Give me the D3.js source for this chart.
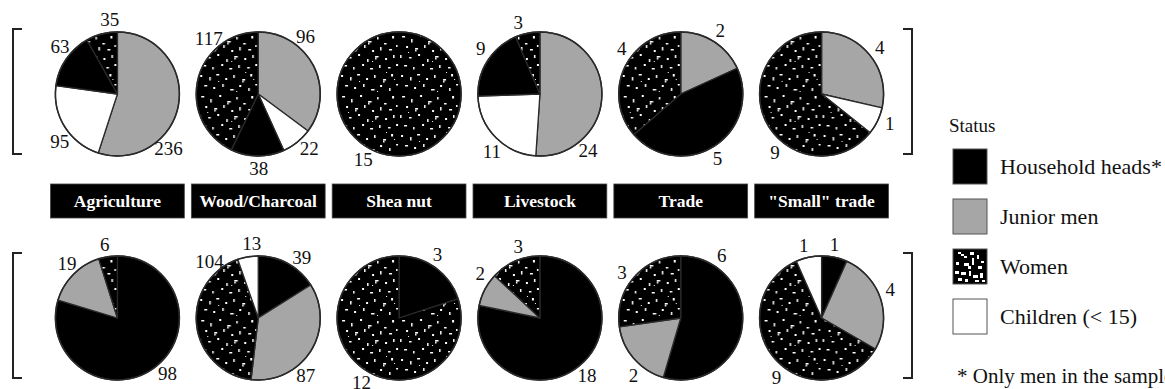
<!DOCTYPE html>
<html>
<head>
<meta charset="utf-8">
<script src="https://cdn.jsdelivr.net/npm/d3@7"></script>
<style>
  body { margin: 0; background: #fff; }
  svg { display: block; }
</style>
</head>
<body>
<svg id="chart" width="1165" height="389" font-family="'Liberation Serif', 'DejaVu Serif', 'Times New Roman', Times, serif"></svg>
<script>
// Activities (one column of pies each)
const categories = ["Agriculture", "Wood/Charcoal", "Shea nut", "Livestock", "Trade", "\"Small\" trade"];

// Legend entries
const statusKeys = ["heads", "junior", "women", "children"];
const statusLabels = ["Household heads*", "Junior men", "Women", "Children (< 15)"];

// Upper row counts, per status
const upperJunior   = [236, 96, 0, 24, 2, 4];
const upperChildren = [95, 22, 0, 11, 0, 1];
const upperHeads    = [63, 38, 0, 9, 5, 0];
const upperWomen    = [35, 117, 15, 3, 4, 9];

// Lower row counts, per status
const lowerHeads    = [98, 39, 3, 18, 6, 1];
const lowerJunior   = [19, 87, 0, 2, 2, 4];
const lowerWomen    = [6, 104, 12, 3, 3, 9];
const lowerChildren = [0, 13, 0, 0, 0, 1];

// Where each value label sits along its slice (0 = slice start, 1 = slice end)
const upperJuniorLabelAt   = [0.69, 0.31, 0.5, 0.76, 0.49, 0.5];
const upperChildrenLabelAt = [0.41, 0.35, 0.5, 0.43, 0.5, 0.42];
const upperHeadsLabelAt    = [0.60, 0.48, 0.5, 0.57, 0.52, 0.5];
const upperWomenLabelAt    = [0.80, 0.73, 0.58, 0.26, 0.60, 0.39];
const lowerHeadsLabelAt    = [0.48, 0.62, 0.43, 0.50, 0.17, 0.42];
const lowerJuniorLabelAt   = [0.55, 0.64, 0.5, 0.80, 0.35, 0.45];
const lowerWomenLabelAt    = [0.44, 0.86, 0.48, 0.64, 0.47, 0.45];
const lowerChildrenLabelAt = [0.5, 0.74, 0.5, 0.5, 0.5, 0.42];

const svg = d3.select("#chart");
const defs = svg.append("defs");

// Speckled texture for the "Women" slices: black ground with small white flecks
const flecks = [
  [3,2,3,1.5],[12,5,1.5,3.5],[21,1,2,2],[29,7,3.5,1.5],[29,8.5,1.5,2],[38,3,1.5,2.5],[45,9,2.5,1.5],[53,2,2,2.5],
  [7,12,2,2],[16,14,3,1.5],[16,15.5,1.5,2],[25,11,1.5,3],[33,16,2,2],[41,13,1.5,3.5],[50,15,3,1.5],[57,11,1.5,2],
  [1,21,1.5,3],[10,23,2.5,1.5],[19,20,2,2],[28,25,1.5,3],[36,22,3.5,1.5],[36,23.5,1.5,2],[46,24,2,2],[54,21,1.5,3],
  [5,31,3,1.5],[14,33,1.5,2.5],[23,30,2,2],[31,34,3,1.5],[40,31,1.5,3],[49,33,2.5,1.5],[57,30,2,2],
  [2,41,2,2],[11,43,1.5,3.5],[18,40,3,1.5],[27,44,2,2],[35,41,1.5,3],[44,45,3,1.5],[44,46.5,1.5,2],[52,40,2,2.5],
  [6,51,3,1.5],[15,53,2,2],[24,50,1.5,3],[32,55,3.5,1.5],[41,51,2,2],[50,54,1.5,3],[57,50,2,1.5],
  [9,18,1,1],[33,27,1,1],[47,38,1,1],[20,47,1,1],[55,45,1,1],[38,57,1,1]
];
const speckle = defs.append("pattern")
  .attr("id", "speckle")
  .attr("patternUnits", "userSpaceOnUse")
  .attr("width", 60).attr("height", 60);
speckle.append("rect").attr("width", 60).attr("height", 60).attr("fill", "#000");
speckle.selectAll("rect.f").data(flecks).join("rect")
  .attr("class", "f")
  .attr("x", d => d[0]).attr("y", d => d[1])
  .attr("width", d => d[2]).attr("height", d => d[3])
  .attr("fill", "#fff");

// Enlarged texture sample shown in the legend key
const blobs = [
  [5,3,3,2],[8,5,3,2],[11,7,3,2],[17,3,4,3],[24,6,2,4],[19,9,2,7],[28,12,3,2],[3,13,3,3],
  [11,14,5,3],[15,17,3,3],[25,17,4,3],[2,22,4,3],[8,23,5,3],[16,22,2,5],[20,26,5,3],[27,24,3,5],
  [5,29,4,3],[12,30,3,3],[22,31,4,2],[29,31,3,2]
];

const fillFor = {
  heads: "#000",
  junior: "#a6a6a6",
  women: "url(#speckle)",
  children: "#fff"
};

const x = d3.scaleBand()
  .domain(categories)
  .range([47, 892])
  .paddingInner(0.05)
  .paddingOuter(0.025);

const radius = 62;
const labelRadius = radius + 12.5;

const rows = [
  {
    cy: 94,
    series: [
      { key: "junior",   values: upperJunior,   at: upperJuniorLabelAt },
      { key: "children", values: upperChildren, at: upperChildrenLabelAt },
      { key: "heads",    values: upperHeads,    at: upperHeadsLabelAt },
      { key: "women",    values: upperWomen,    at: upperWomenLabelAt }
    ]
  },
  {
    cy: 318,
    series: [
      { key: "heads",    values: lowerHeads,    at: lowerHeadsLabelAt },
      { key: "junior",   values: lowerJunior,   at: lowerJuniorLabelAt },
      { key: "women",    values: lowerWomen,    at: lowerWomenLabelAt },
      { key: "children", values: lowerChildren, at: lowerChildrenLabelAt }
    ]
  }
];

const pie = d3.pie().sort(null).value(d => d.value);
const arc = d3.arc().innerRadius(0).outerRadius(radius);

rows.forEach(row => {
  categories.forEach((cat, i) => {
    const cx = x(cat) + x.bandwidth() / 2;
    const slices = row.series
      .map(s => ({ key: s.key, value: s.values[i], at: s.at[i] }))
      .filter(s => s.value > 0);
    const arcs = pie(slices);
    const g = svg.append("g").attr("transform", `translate(${cx},${row.cy})`);

    g.selectAll("path").data(arcs).join("path")
      .attr("d", arc)
      .attr("fill", d => fillFor[d.data.key])
      .attr("stroke", "#2a2a2a")
      .attr("stroke-width", 1.3)
      .attr("stroke-linejoin", "round");

    g.append("circle")
      .attr("r", radius)
      .attr("fill", "none")
      .attr("stroke", "#2a2a2a")
      .attr("stroke-width", 1.5);

    g.selectAll("text").data(arcs).join("text")
      .attr("x", d => {
        const a = d.startAngle + d.data.at * (d.endAngle - d.startAngle);
        return labelRadius * Math.sin(a);
      })
      .attr("y", d => {
        const a = d.startAngle + d.data.at * (d.endAngle - d.startAngle);
        return -labelRadius * Math.cos(a);
      })
      .attr("text-anchor", "middle")
      .attr("dominant-baseline", "central")
      .attr("fill", "#111")
      .attr("font-size", 19)
      .text(d => d.data.value);
  });
});

// Activity name bars between the two rows
const barY = 184, barH = 34;
const bars = svg.append("g");
bars.selectAll("rect").data(categories).join("rect")
  .attr("x", d => x(d))
  .attr("y", barY)
  .attr("width", x.bandwidth())
  .attr("height", barH)
  .attr("fill", "#000")
  .attr("stroke", "#444")
  .attr("stroke-width", 0.8);
bars.selectAll("text").data(categories).join("text")
  .attr("x", d => x(d) + x.bandwidth() / 2)
  .attr("y", barY + barH / 2)
  .attr("text-anchor", "middle")
  .attr("dominant-baseline", "central")
  .attr("font-size", 17.5)
  .attr("font-weight", "bold")
  .attr("fill", "#fff")
  .text(d => d);

// Brackets grouping each row
function bracket(xEdge, y0, y1, dir) {
  svg.append("path")
    .attr("d", `M${xEdge + dir * 9},${y0} H${xEdge} V${y1} H${xEdge + dir * 9}`)
    .attr("fill", "none")
    .attr("stroke", "#222")
    .attr("stroke-width", 2);
}
rows.forEach(row => {
  bracket(13, row.cy - 65, row.cy + 60, 1);
  bracket(912, row.cy - 65, row.cy + 60, -1);
});

// Legend
const legend = svg.append("g");
legend.append("text")
  .attr("x", 949).attr("y", 132)
  .attr("font-size", 19)
  .attr("fill", "#111")
  .text("Status");
const items = legend.selectAll("g.item").data(statusKeys).join("g")
  .attr("class", "item")
  .attr("transform", (d, i) => `translate(953,${149 + i * 50})`);
items.append("rect")
  .attr("width", 34).attr("height", 35)
  .attr("fill", d => d === "women" ? "#000" : fillFor[d]);
items.filter(d => d === "women")
  .selectAll("rect.blob").data(blobs).join("rect")
  .attr("class", "blob")
  .attr("x", b => b[0]).attr("y", b => b[1])
  .attr("width", b => b[2]).attr("height", b => b[3])
  .attr("fill", "#fff");
items.append("rect")
  .attr("width", 34).attr("height", 35)
  .attr("fill", "none")
  .attr("stroke", "#555")
  .attr("stroke-width", 1);
items.append("text")
  .attr("x", 47).attr("y", 17.5)
  .attr("dominant-baseline", "central")
  .attr("font-size", 22)
  .attr("fill", "#111")
  .text((d, i) => statusLabels[i]);

legend.append("text")
  .attr("x", 957).attr("y", 383)
  .attr("font-size", 21)
  .attr("fill", "#111")
  .text("* Only men in the sample");
</script>
</body>
</html>
